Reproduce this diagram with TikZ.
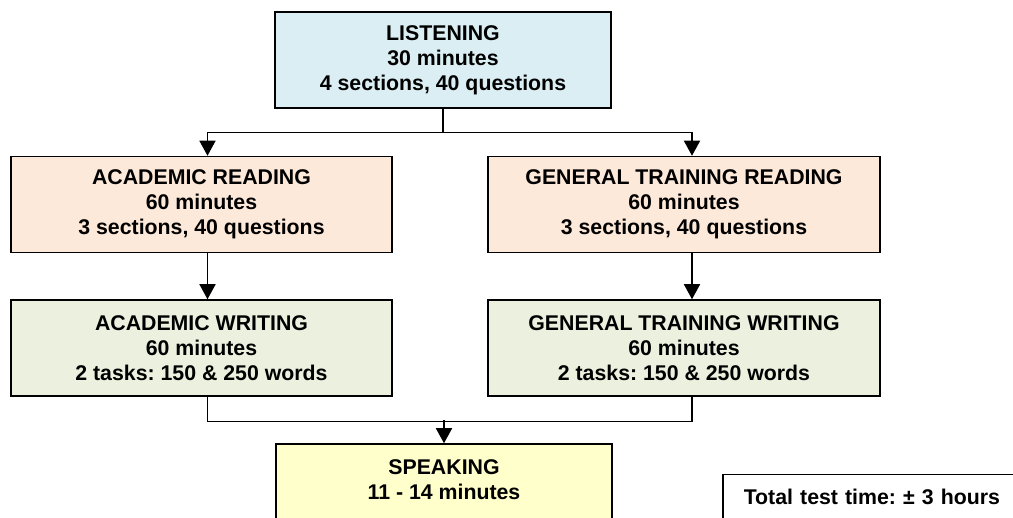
\documentclass[tikz,border=0pt]{standalone}
\usepackage{fontspec}
\setmainfont{Liberation Sans}
\frenchspacing
\usetikzlibrary{arrows.meta}
\definecolor{listenBlue}{HTML}{DAEEF3}
\definecolor{readPeach}{HTML}{FDE9D9}
\definecolor{writeGreen}{HTML}{EBF1DE}
\definecolor{speakYellow}{HTML}{FFFFCC}

\begin{document}
\begin{tikzpicture}[x=1pt, y=-1pt, line width=1.5pt,
  box/.style={draw=black, minimum height=96pt, inner sep=0pt, align=center,
    font=\fontsize{21.3}{25}\selectfont\bfseries},
  arr/.style={-{Triangle[width=16pt, length=15pt]}}]
  \useasboundingbox (0,0) rectangle (1013,518);
  \clip (0,0) rectangle (1013,518);
  \node[box, fill=listenBlue, minimum width=336pt] (listen) at (443,60)
    {LISTENING\\30 minutes\\4 sections, 40 questions};
  \node[box, fill=readPeach, minimum width=381pt] (readA) at (201.5,204.5)
    {ACADEMIC READING\\60 minutes\\3 sections, 40 questions};
  \node[box, fill=readPeach, minimum width=392pt] (readG) at (684,204.5)
    {GENERAL TRAINING READING\\60 minutes\\3 sections, 40 questions};
  \node[box, fill=writeGreen, minimum width=381pt] (writeA) at (201.5,348)
    {ACADEMIC WRITING\\60 minutes\\2 tasks: 150 \& 250 words};
  \node[box, fill=writeGreen, minimum width=392pt] (writeG) at (684,348)
    {GENERAL TRAINING WRITING\\60 minutes\\2 tasks: 150 \& 250 words};
  \node[box, fill=speakYellow, minimum width=336pt] (speak) at (444,492)
    {SPEAKING\\11 - 14 minutes\\~};
  \node[draw=black, anchor=north west, text width=300pt, inner xsep=21pt, inner ysep=14pt,
    text depth=30pt, align=left, font=\fontsize{21.3}{25}\selectfont\bfseries] (total)
    at (722,474) {Total test time: ± 3 hours};
  % split after listening
  \draw[arr] (listen.south) -- ++(0,24) -| ([xshift=6pt]readA.north);
  \draw[arr] (listen.south) -- ++(0,24) -| ([xshift=8pt]readG.north);
  \draw[arr] ([xshift=6pt]readA.south) -- ([xshift=6pt]writeA.north);
  \draw[arr] ([xshift=8pt]readG.south) -- ([xshift=8pt]writeG.north);
  % join into speaking
  \draw ([xshift=6pt]writeA.south) -- ++(0,25) -| ([xshift=8pt]writeG.south);
  \draw[arr] ([yshift=23pt]speak.north) -- (speak.north);
\end{tikzpicture}
\end{document}
